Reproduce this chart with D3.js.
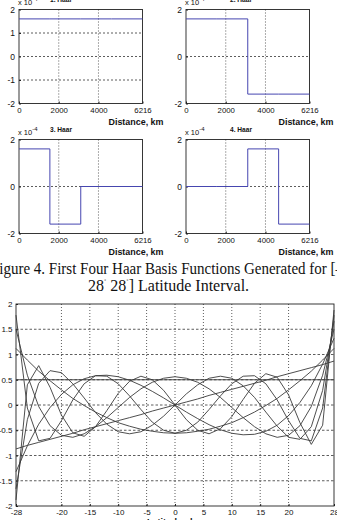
<!DOCTYPE html>
<html lang="en">
<head>
<meta charset="UTF-8">
<title>Haar and Legendre basis functions</title>
<script src="https://d3js.org/d3.v7.min.js"></script>
<style>
  body { margin: 0; background: #fff; }
  svg { display: block; }
</style>
</head>
<body>
<div id="chart"></div>
<script>
// Haar panels: breakpoints along distance (km) and the value on each quarter (x 10^-4)
const haarEdges = [0, 1554, 3108, 4662, 6216];
const haarValues = [
  [1.6, 1.6, 1.6, 1.6],
  [1.6, 1.6, -1.6, -1.6],
  [1.6, -1.6, 0, 0],
  [0, 0, 1.6, -1.6]
];
const haarTitles = ["1. Haar", "2. Haar", "3. Haar", "4. Haar"];
const distTicks = [0, 2000, 4000, 6216];
const haarYTicks = [[-2, -1, 0, 1, 2], [-2, 0, 2], [-2, 0, 2], [-2, 0, 2]];

// lower plot: latitude samples and the basis curves
const latX = [-28, -26, -24, -22, -20, -18, -16, -14, -12, -10, -8, -6, -4, -2, 0,
  2, 4, 6, 8, 10, 12, 14, 16, 18, 20, 22, 24, 26, 28];
const latTicks = [-28, -20, -15, -10, -5, 0, 5, 10, 15, 20, 28];
const valTicks = [-2, -1.5, -1, -0.5, 0, 0.5, 1, 1.5, 2];

const basis0 = [0.5, 0.5, 0.5, 0.5, 0.5, 0.5, 0.5, 0.5, 0.5, 0.5, 0.5, 0.5, 0.5, 0.5, 0.5,
  0.5, 0.5, 0.5, 0.5, 0.5, 0.5, 0.5, 0.5, 0.5, 0.5, 0.5, 0.5, 0.5, 0.5];
const basis1 = [-0.87, -0.80, -0.74, -0.68, -0.62, -0.56, -0.49, -0.43, -0.37, -0.31, -0.25, -0.19, -0.12, -0.06, 0,
  0.06, 0.12, 0.19, 0.25, 0.31, 0.37, 0.43, 0.49, 0.56, 0.62, 0.68, 0.74, 0.80, 0.87];
const basis2 = [1.12, 0.89, 0.67, 0.48, 0.30, 0.13, -0.01, -0.14, -0.25, -0.35, -0.42, -0.48, -0.52, -0.55, -0.56,
  -0.55, -0.52, -0.48, -0.42, -0.35, -0.25, -0.14, -0.01, 0.13, 0.30, 0.48, 0.67, 0.89, 1.12];
const basis3 = [-1.32, -0.81, -0.38, -0.05, 0.21, 0.40, 0.52, 0.58, 0.59, 0.56, 0.49, 0.39, 0.27, 0.14, 0,
  -0.14, -0.27, -0.39, -0.49, -0.56, -0.59, -0.58, -0.52, -0.40, -0.21, 0.05, 0.38, 0.81, 1.32];
const basis4 = [1.5, 0.59, -0.03, -0.41, -0.60, -0.64, -0.57, -0.43, -0.25, -0.05, 0.15, 0.32, 0.45, 0.53, 0.56,
  0.53, 0.45, 0.32, 0.15, -0.05, -0.25, -0.43, -0.57, -0.64, -0.60, -0.41, -0.03, 0.59, 1.5];
const basis5 = [-1.66, -0.29, 0.43, 0.68, 0.64, 0.42, 0.14, -0.15, -0.38, -0.53, -0.57, -0.53, -0.40, -0.22, 0,
  0.22, 0.40, 0.53, 0.57, 0.53, 0.38, 0.15, -0.14, -0.42, -0.64, -0.68, -0.43, 0.29, 1.66];
const basis6 = [1.78, -0.06, -0.71, -0.66, -0.31, 0.10, 0.42, 0.58, 0.57, 0.42, 0.18, -0.09, -0.34, -0.50, -0.56,
  -0.50, -0.34, -0.09, 0.18, 0.42, 0.57, 0.58, 0.42, 0.10, -0.31, -0.66, -0.71, -0.06, 1.78];
const basis7 = [-1.88, 0.40, 0.78, 0.35, -0.20, -0.55, -0.62, -0.43, -0.11, 0.23, 0.47, 0.57, 0.50, 0.29, 0,
  -0.29, -0.50, -0.57, -0.47, -0.23, 0.11, 0.43, 0.62, 0.55, 0.20, -0.35, -0.78, -0.40, 1.88];
const basisSet = [basis0, basis1, basis2, basis3, basis4, basis5, basis6, basis7];

const sansFont = '"Liberation Sans", Arial, sans-serif';
const plain = d => String(d);   // keep ASCII hyphen for negatives, like the figure

const svg = d3.select("#chart").append("svg")
    .attr("width", 337)
    .attr("height", 520);

function styleAxis(a, size) {
    a.select(".domain").remove();
    a.selectAll("line").attr("stroke", "#222");
    a.selectAll("text").attr("fill", "#111");
    a.attr("font-size", size).attr("font-family", sansFont);
}

function haarPanel(i) {
    const left = i % 2 ? 186 : 19, top = i < 2 ? 9.5 : 139.5;
    const w = 123.5, h = 94;
    const x = d3.scaleLinear().domain([0, 6216]).range([left, left + w]);
    const y = d3.scaleLinear().domain([-2, 2]).range([top + h, top]);
    const g = svg.append("g");

    g.selectAll(".vg").data(distTicks.slice(1, -1)).join("line")
        .attr("class", "vg")
        .attr("x1", d => x(d)).attr("x2", d => x(d))
        .attr("y1", top).attr("y2", top + h)
        .attr("stroke", "#333").attr("stroke-width", 0.8)
        .attr("stroke-dasharray", "1,2");
    g.selectAll(".hg").data(haarYTicks[i].slice(1, -1)).join("line")
        .attr("class", "hg")
        .attr("x1", left).attr("x2", left + w)
        .attr("y1", d => y(d)).attr("y2", d => y(d))
        .attr("stroke", "#333").attr("stroke-width", 0.8)
        .attr("stroke-dasharray", "2,2");

    g.append("rect")
        .attr("x", left).attr("y", top).attr("width", w).attr("height", h)
        .attr("fill", "none").attr("stroke", "#222").attr("stroke-width", 0.9);

    g.append("g")
        .attr("transform", `translate(0,${top + h})`)
        .call(d3.axisBottom(x).tickValues(distTicks).tickFormat(plain)
            .tickSizeInner(-2).tickSizeOuter(0).tickPadding(3.5))
        .call(a => styleAxis(a, 7.8));
    g.append("g")
        .attr("transform", `translate(${left},0)`)
        .call(d3.axisLeft(y).tickValues(haarYTicks[i]).tickFormat(plain)
            .tickSizeInner(-2).tickSizeOuter(0).tickPadding(4))
        .call(a => styleAxis(a, 8.5));

    const pts = haarEdges.map((e, k) => [e, haarValues[i][Math.min(k, 3)]]);
    g.append("path")
        .datum(pts)
        .attr("d", d3.line().x(d => x(d[0])).y(d => y(d[1])).curve(d3.curveStepAfter))
        .attr("fill", "none")
        .attr("stroke", "#4646b0")
        .attr("stroke-width", 1);

    // exponent and title above the box
    const expo = g.append("text")
        .attr("x", left - 1).attr("y", top - 4.5)
        .attr("font-family", sansFont).attr("font-size", 7.5).attr("fill", "#111");
    expo.append("tspan").text("x 10");
    expo.append("tspan").attr("dy", -4.5).attr("font-size", 6).text("-4");

    g.append("text")
        .attr("x", left + (i % 2 ? 55 : 42)).attr("y", top - 8)
        .attr("text-anchor", "middle")
        .attr("font-family", sansFont).attr("font-size", 8).attr("font-weight", "bold")
        .attr("textLength", 22).attr("lengthAdjust", "spacingAndGlyphs")
        .attr("fill", "#111")
        .text(haarTitles[i]);

    g.append("text")
        .attr("x", left + w + (i % 2 ? 24 : 21)).attr("y", top + h + 21.5)
        .attr("text-anchor", "end")
        .attr("font-family", sansFont).attr("font-size", 8.5).attr("font-weight", "bold")
        .attr("textLength", 55).attr("lengthAdjust", "spacingAndGlyphs")
        .attr("fill", "#111")
        .text("Distance, km");
}

[0, 1, 2, 3].forEach(haarPanel);

// caption between the two figures
const serif = '"Liberation Serif", "Times New Roman", serif';
svg.append("text")
    .attr("x", -9).attr("y", 273.5)
    .attr("font-family", serif).attr("font-size", 16).attr("fill", "#111")
    .attr("textLength", 352).attr("lengthAdjust", "spacingAndGlyphs")
    .text("Figure 4. First Four Haar Basis Functions Generated for [\u2013");
const cap2 = svg.append("text")
    .attr("x", 88).attr("y", 291)
    .attr("font-family", serif).attr("font-size", 16).attr("fill", "#111");
cap2.append("tspan").text("28");
cap2.append("tspan").attr("dy", -7).attr("font-size", 7).text("\u02da");
cap2.append("tspan").attr("dy", 7).text(" 28");
cap2.append("tspan").attr("dy", -7).attr("font-size", 7).text("\u02da");
cap2.append("tspan").attr("dy", 7).text("] Latitude Interval.");

// lower plot
const bx = d3.scaleLinear().domain([-28, 28]).range([16, 334]);
const by = d3.scaleLinear().domain([-2, 2]).range([506, 304]);
const lower = svg.append("g");

lower.selectAll(".vg").data(latTicks.slice(1, -1)).join("line")
    .attr("class", "vg")
    .attr("x1", d => bx(d)).attr("x2", d => bx(d))
    .attr("y1", by(2)).attr("y2", by(-2))
    .attr("stroke", "#333").attr("stroke-width", 0.8)
    .attr("stroke-dasharray", "1,2");
lower.selectAll(".hg").data(valTicks.slice(1, -1)).join("line")
    .attr("class", "hg")
    .attr("x1", bx(-28)).attr("x2", bx(28))
    .attr("y1", d => by(d)).attr("y2", d => by(d))
    .attr("stroke", "#333").attr("stroke-width", 0.8)
    .attr("stroke-dasharray", "2.5,2");

lower.append("rect")
    .attr("x", bx(-28)).attr("y", by(2))
    .attr("width", bx(28) - bx(-28)).attr("height", by(-2) - by(2))
    .attr("fill", "none").attr("stroke", "#222").attr("stroke-width", 0.9);

lower.append("g")
    .attr("transform", `translate(0,${by(-2)})`)
    .call(d3.axisBottom(bx).tickValues(latTicks).tickFormat(plain)
        .tickSizeInner(-2).tickSizeOuter(0).tickPadding(3))
    .call(a => styleAxis(a, 8));
lower.append("g")
    .attr("transform", `translate(${bx(-28)},0)`)
    .call(d3.axisLeft(by).tickValues(valTicks).tickFormat(plain)
        .tickSizeInner(-2).tickSizeOuter(0).tickPadding(3.5))
    .call(a => styleAxis(a, 8));

const curve = d3.line()
    .x((d, k) => bx(latX[k]))
    .y(d => by(d));
lower.selectAll(".basis").data(basisSet).join("path")
    .attr("class", "basis")
    .attr("d", curve)
    .attr("fill", "none")
    .attr("stroke", "#3a3a3a")
    .attr("stroke-width", 0.9);

lower.append("text")
    .attr("x", 175).attr("y", 525)
    .attr("text-anchor", "middle")
    .attr("font-family", sansFont).attr("font-size", 9).attr("font-weight", "bold")
    .attr("fill", "#111")
    .text("Latitude, deg");
</script>
</body>
</html>
